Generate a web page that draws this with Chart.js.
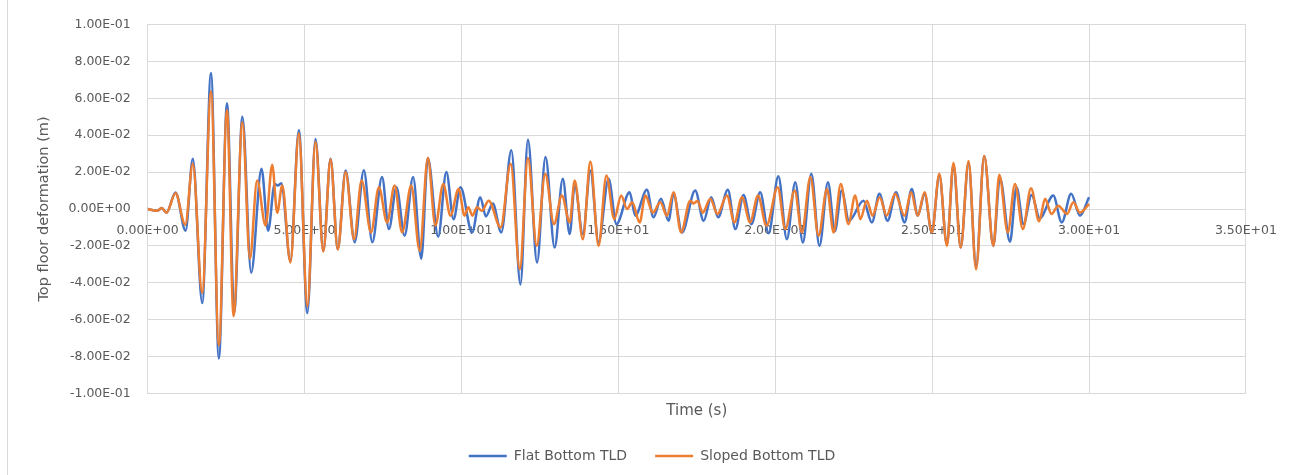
<!DOCTYPE html>
<html>
<head>
<meta charset="utf-8">
<script src="https://cdn.jsdelivr.net/npm/chart.js@4.4.1/dist/chart.umd.min.js"></script>
<style>
  html, body { margin: 0; padding: 0; background: #fff; }
  #wrap { position: relative; width: 1291px; height: 475px; }
  #edge { position: absolute; left: 7px; top: 0; width: 1px; height: 475px; background: #d9d9d9; }
  canvas { position: absolute; left: 0; top: 0; }
</style>
</head>
<body>
<div id="wrap"><div id="edge"></div><canvas id="myChart" width="1291" height="475"></canvas></div>
<script>
// Time history (peaks and troughs), seconds / metres
var flatTime = [0, 0.3, 0.45, 0.6, 0.89, 1.21, 1.44, 1.74, 2.02, 2.27, 2.53, 2.76, 3.02, 3.3, 3.63, 3.84, 4.05, 4.15, 4.26, 4.55, 4.82, 5.09, 5.35, 5.6, 5.83, 6.06, 6.31, 6.6, 6.89, 7.16, 7.47, 7.69, 7.93, 8.19, 8.46, 8.72, 8.93, 9.26, 9.52, 9.75, 9.97, 10.34, 10.6, 10.78, 11.0, 11.27, 11.59, 11.88, 12.12, 12.41, 12.68, 12.97, 13.23, 13.45, 13.61, 13.87, 14.11, 14.37, 14.69, 14.94, 15.36, 15.54, 15.91, 16.12, 16.36, 16.6, 16.76, 17.03, 17.45, 17.72, 17.96, 18.18, 18.49, 18.73, 18.99, 19.24, 19.52, 19.79, 20.1, 20.37, 20.64, 20.88, 21.15, 21.41, 21.68, 21.9, 22.12, 22.35, 22.81, 23.08, 23.32, 23.58, 23.85, 24.12, 24.35, 24.54, 24.76, 24.99, 25.23, 25.47, 25.68, 25.91, 26.16, 26.4, 26.66, 26.95, 27.16, 27.48, 27.69, 27.91, 28.17, 28.43, 28.86, 29.13, 29.43, 29.71, 30.0];
var flatDisp = [0, -0.001, 0.0005, -0.002, 0.009, -0.0118, 0.0273, -0.051, 0.0737, -0.081, 0.0573, -0.056, 0.05, -0.0345, 0.0218, -0.0118, 0.0136, 0.0127, 0.014, -0.028, 0.0427, -0.0564, 0.038, -0.0227, 0.0273, -0.0218, 0.0209, -0.018, 0.021, -0.018, 0.0173, -0.0109, 0.0118, -0.0145, 0.0173, -0.0269, 0.0276, -0.015, 0.02, -0.0055, 0.0118, -0.0127, 0.0064, -0.004, 0.003, -0.0127, 0.0318, -0.0409, 0.0376, -0.029, 0.0282, -0.0209, 0.0164, -0.0136, 0.013, -0.0136, 0.0209, -0.018, 0.0164, -0.0082, 0.0091, -0.0036, 0.0104, -0.0045, 0.0055, -0.0064, 0.0082, -0.0127, 0.01, -0.0064, 0.0064, -0.0045, 0.0104, -0.0109, 0.0076, -0.0082, 0.0091, -0.0131, 0.0178, -0.0164, 0.0145, -0.0182, 0.0191, -0.02, 0.0145, -0.012, 0.01, -0.0064, 0.0045, -0.0073, 0.0082, -0.0064, 0.0091, -0.0073, 0.0109, -0.0036, 0.008, -0.0127, 0.0182, -0.0191, 0.024, -0.0209, 0.025, -0.031, 0.0287, -0.02, 0.017, -0.0178, 0.0118, -0.0082, 0.0076, -0.005, 0.0073, -0.0073, 0.0082, -0.0036, 0.0064];

var slopedTime = [0, 0.3, 0.45, 0.6, 0.89, 1.2, 1.44, 1.74, 2.02, 2.27, 2.53, 2.74, 3.02, 3.26, 3.49, 3.76, 3.97, 4.13, 4.29, 4.55, 4.82, 5.09, 5.35, 5.6, 5.83, 6.06, 6.31, 6.58, 6.82, 7.12, 7.37, 7.63, 7.87, 8.11, 8.4, 8.67, 8.93, 9.17, 9.42, 9.65, 9.91, 10.1, 10.22, 10.35, 10.5, 10.65, 10.87, 11.25, 11.57, 11.86, 12.12, 12.4, 12.67, 12.95, 13.2, 13.45, 13.61, 13.87, 14.11, 14.37, 14.62, 14.87, 15.09, 15.28, 15.44, 15.68, 15.86, 16.1, 16.34, 16.55, 16.76, 17.0, 17.29, 17.4, 17.52, 17.69, 17.93, 18.16, 18.46, 18.7, 18.94, 19.2, 19.45, 19.72, 20.08, 20.32, 20.62, 20.85, 21.12, 21.38, 21.65, 21.86, 22.09, 22.33, 22.55, 22.71, 22.92, 23.1, 23.33, 23.55, 23.82, 24.12, 24.33, 24.54, 24.76, 24.99, 25.23, 25.47, 25.68, 25.91, 26.16, 26.4, 26.66, 26.95, 27.14, 27.41, 27.64, 27.89, 28.15, 28.41, 28.6, 28.8, 29.02, 29.3, 29.5, 29.71, 30.0];
var slopedDisp = [0, -0.001, 0.0005, -0.002, 0.0085, -0.0085, 0.0245, -0.0455, 0.0637, -0.0737, 0.0536, -0.058, 0.047, -0.027, 0.0155, -0.009, 0.024, -0.002, 0.0127, -0.029, 0.041, -0.0527, 0.0364, -0.023, 0.027, -0.022, 0.02, -0.0164, 0.0155, -0.0127, 0.0118, -0.0073, 0.0127, -0.0127, 0.0127, -0.0227, 0.0276, -0.009, 0.0136, -0.0036, 0.0109, -0.0036, 0.001, -0.0036, 0.001, -0.001, 0.0045, -0.01, 0.0245, -0.0327, 0.0276, -0.02, 0.0191, -0.0082, 0.0073, -0.0073, 0.0155, -0.0164, 0.0258, -0.02, 0.0182, -0.0055, 0.0073, 0, 0.0036, -0.0073, 0.0073, -0.002, 0.0036, -0.0036, 0.0091, -0.0127, 0.0045, 0.003, 0.0045, -0.002, 0.0055, -0.0027, 0.0073, -0.0073, 0.0064, -0.0073, 0.0073, -0.009, 0.0118, -0.0109, 0.01, -0.0127, 0.0173, -0.0145, 0.0109, -0.0127, 0.0136, -0.0082, 0.0073, -0.0055, 0.0045, -0.0036, 0.0064, -0.0036, 0.0082, -0.0036, 0.0091, -0.0036, 0.0091, -0.0127, 0.0191, -0.02, 0.0251, -0.0209, 0.026, -0.0327, 0.0287, -0.02, 0.0185, -0.0127, 0.0136, -0.0109, 0.0113, -0.0067, 0.0055, -0.0027, 0.0018, -0.0027, 0.0036, -0.002, 0.0027];

// Axis ticks
var xTickValues = [0, 5, 10, 15, 20, 25, 30, 35];
var xTickLabels = ['0.00E+00', '5.00E+00', '1.00E+01', '1.50E+01', '2.00E+01', '2.50E+01', '3.00E+01', '3.50E+01'];
var yTickValues = [-0.1, -0.08, -0.06, -0.04, -0.02, 0, 0.02, 0.04, 0.06, 0.08, 0.1];
var yTickLabels = ['-1.00E-01', '-8.00E-02', '-6.00E-02', '-4.00E-02', '-2.00E-02', '0.00E+00', '2.00E-02', '4.00E-02', '6.00E-02', '8.00E-02', '1.00E-01'];

var textColor = '#595959';
var gridColor = '#d9d9d9';
var fontFamily = '"DejaVu Sans", sans-serif';

function toPoints(times, values) {
  return times.map(function(t, i) { return { x: t, y: values[i] }; });
}

// the legend in the picture sits a little right of the canvas centre
var legendShift = {
  id: 'legendShift',
  afterLayout: function(chart) {
    chart.legend.left += 16;
    chart.legend.right += 16;
  }
};

var ctx = document.getElementById('myChart').getContext('2d');

var myChart = new Chart(ctx, {
  type: 'line',
  data: {
    datasets: [{
      label: 'Flat Bottom TLD',
      data: toPoints(flatTime, flatDisp),
      borderColor: '#4472C4',
      backgroundColor: '#4472C4',
      borderWidth: 2.5,
      pointRadius: 0,
      cubicInterpolationMode: 'monotone',
      order: 2
    }, {
      label: 'Sloped Bottom TLD',
      data: toPoints(slopedTime, slopedDisp),
      borderColor: '#ED7D31',
      backgroundColor: '#ED7D31',
      borderWidth: 2.5,
      pointRadius: 0,
      cubicInterpolationMode: 'monotone',
      order: 1
    }]
  },
  plugins: [legendShift],
  options: {
    responsive: false,
    animation: false,
    layout: { padding: { left: 26, right: 45, top: 23.5, bottom: 2 } },
    scales: {
      x: {
        type: 'linear',
        min: 0,
        max: 35,
        position: { y: 0 },
        afterBuildTicks: function(scale) {
          scale.ticks = xTickValues.map(function(v) { return { value: v }; });
        },
        ticks: {
          callback: function(v, i) { return xTickLabels[i]; },
          color: textColor,
          font: { family: fontFamily, size: 12.5 },
          padding: 14,
          maxRotation: 0,
          autoSkip: false
        },
        grid: { color: gridColor, drawTicks: false },
        border: { color: gridColor }
      },
      xTitle: {
        type: 'linear',
        position: 'bottom',
        min: 0,
        max: 35,
        ticks: { display: false },
        grid: { display: false, drawTicks: false },
        border: { display: false },
        title: {
          display: true,
          text: 'Time (s)',
          color: textColor,
          font: { family: fontFamily, size: 15 },
          padding: { top: 8.5, bottom: 1 }
        }
      },
      y: {
        min: -0.1,
        max: 0.1,
        afterBuildTicks: function(scale) {
          scale.ticks = yTickValues.map(function(v) { return { value: v }; });
        },
        ticks: {
          callback: function(v, i) { return yTickLabels[i]; },
          color: textColor,
          font: { family: fontFamily, size: 12.5 },
          padding: 17
        },
        grid: { color: gridColor, drawTicks: false },
        border: { color: gridColor },
        title: {
          display: true,
          text: 'Top floor deformation (m)',
          color: textColor,
          font: { family: fontFamily, size: 14.5, lineHeight: 1 },
          padding: { top: 11, bottom: 0 }
        }
      }
    },
    plugins: {
      legend: {
        position: 'bottom',
        labels: {
          usePointStyle: true,
          pointStyle: 'line',
          pointStyleWidth: 38,
          padding: 28,
          color: textColor,
          font: { family: fontFamily, size: 14 },
          sort: function(a, b) { return a.datasetIndex - b.datasetIndex; }
        }
      },
      tooltip: { enabled: false }
    }
  }
});
</script>
</body>
</html>
